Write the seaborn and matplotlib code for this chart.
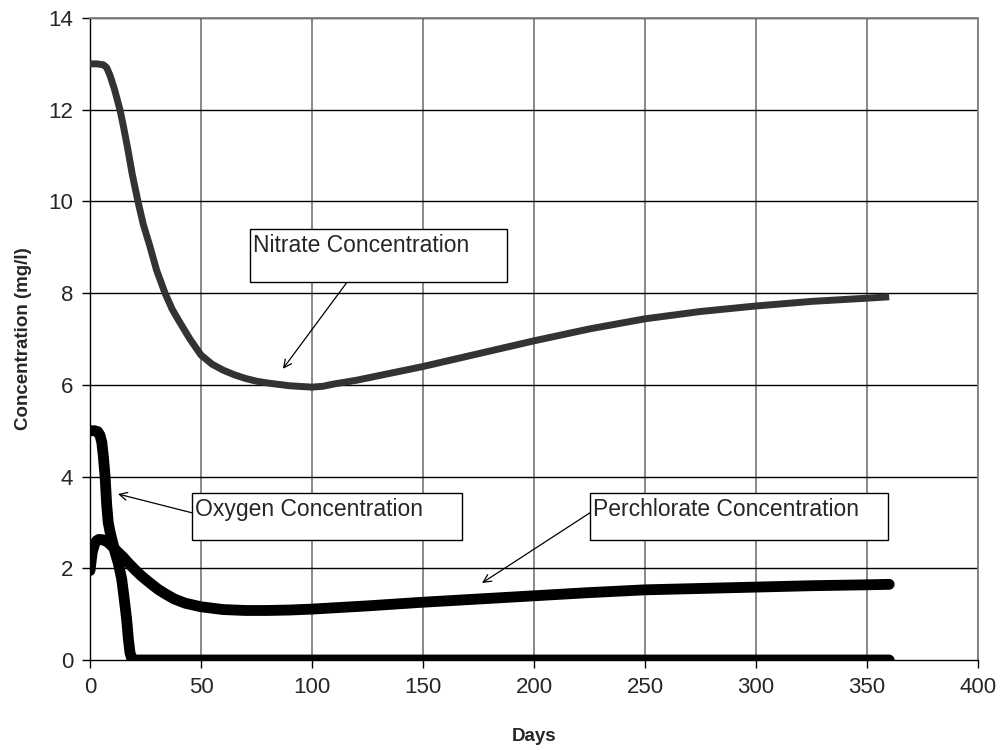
import matplotlib
matplotlib.use("Agg")
import matplotlib.pyplot as plt
import seaborn as sns
from matplotlib.patches import Rectangle

# ---- data ----
nitrate_days = [0, 3, 6, 7.5, 9, 11, 13.5, 15, 17, 19, 21.6, 24, 27, 30, 33.8, 37, 40,
                45, 50, 55, 60, 65, 70, 75, 80, 90, 100, 105, 110, 120, 130, 140, 150,
                175, 200, 225, 250, 275, 300, 325, 350, 360]
nitrate_conc = [13.0, 13.0, 12.98, 12.92, 12.75, 12.45, 12.0, 11.65, 11.15, 10.6, 10.0,
                9.5, 9.02, 8.5, 8.0, 7.65, 7.4, 7.0, 6.65, 6.45, 6.32, 6.22, 6.14, 6.08,
                6.04, 5.98, 5.95, 5.97, 6.02, 6.1, 6.2, 6.3, 6.4, 6.68, 6.96, 7.22, 7.44,
                7.6, 7.72, 7.82, 7.89, 7.92]

oxygen_days = [0, 2, 3.5, 4.5, 5.3, 6, 6.8, 7.5, 8.2, 9, 10, 11.3, 12.8, 14.3, 15.5,
               16.5, 17.3, 18, 18.8, 20, 100, 200, 300, 360]
oxygen_conc = [5.0, 5.0, 4.98, 4.9, 4.75, 4.45, 4.0, 3.4, 3.0, 2.8, 2.6, 2.35, 2.1,
               1.76, 1.3, 0.89, 0.45, 0.16, 0.03, 0.0, 0.0, 0.0, 0.0, 0.0]

perc_days = [0, 0.5, 1, 2, 3, 4, 6, 8, 10, 12.6, 15, 17, 20, 23, 27, 30.7, 34, 38,
             42.8, 50, 55, 60, 70, 80, 90, 100, 125, 150, 175, 200, 225, 250, 275,
             300, 325, 350, 360]
perc_conc = [1.95, 2.15, 2.35, 2.52, 2.6, 2.63, 2.62, 2.57, 2.48, 2.35, 2.24, 2.13,
             1.98, 1.84, 1.68, 1.54, 1.44, 1.33, 1.24, 1.16, 1.13, 1.1, 1.08, 1.08,
             1.09, 1.11, 1.18, 1.26, 1.33, 1.40, 1.47, 1.53, 1.56, 1.59, 1.62, 1.64, 1.65]

x_ticks = [0, 50, 100, 150, 200, 250, 300, 350, 400]
y_ticks = [0, 2, 4, 6, 8, 10, 12, 14]
x_label = "Days"
y_label = "Concentration (mg/l)"
labels = ["Nitrate Concentration", "Oxygen Concentration", "Perchlorate Concentration"]

# ---- figure ----
sns.set_style("white")
plt.rcParams['font.family'] = ['Liberation Sans', 'DejaVu Sans']

fig = plt.figure(figsize=(10.05, 7.5), dpi=100)
ax = fig.add_axes([90/1005, 90/750, 888/1005, 642/750])

ax.set_xlim(0, 400)
ax.set_ylim(0, 14)
ax.set_xticks(x_ticks)
ax.set_yticks(y_ticks)

# grid: vertical gray, horizontal black
for xv in x_ticks[1:]:
    ax.axvline(xv, color="#808080", lw=1.3, zorder=0)
for yv in y_ticks[1:]:
    ax.axhline(yv, color="black", lw=1.0, zorder=0)

sns.lineplot(x=nitrate_days, y=nitrate_conc, ax=ax, color="#333333", lw=5,
             solid_capstyle="butt", solid_joinstyle="round", zorder=3,
             estimator=None, sort=False)
sns.lineplot(x=oxygen_days, y=oxygen_conc, ax=ax, color="black", lw=7.8,
             solid_capstyle="round", solid_joinstyle="round", zorder=4,
             estimator=None, sort=False)
sns.lineplot(x=perc_days, y=perc_conc, ax=ax, color="black", lw=7.8,
             solid_capstyle="round", solid_joinstyle="round", zorder=4,
             estimator=None, sort=False)

for s in ["top", "right"]:
    ax.spines[s].set_color("#808080")
    ax.spines[s].set_linewidth(1.3)
for s in ["left", "bottom"]:
    ax.spines[s].set_color("black")
    ax.spines[s].set_linewidth(1.0)

ax.tick_params(axis="both", direction="out", length=6, width=1.0, color="black",
               labelsize=16, pad=6, left=True, bottom=True)
ax.set_xlabel(x_label, fontsize=13.5, fontweight="bold", labelpad=22)
ax.set_ylabel(y_label, fontsize=13.5, fontweight="bold", labelpad=12)

# ---- annotation boxes ----
boxes = [
    # (x0, y0, x1, y1), text, arrow start, arrow tip
    ((72.1, 8.24, 187.8, 9.40), labels[0], (115.8, 8.24), (86.9, 6.35)),
    ((45.9, 2.62, 167.6, 3.64), labels[1], (45.9, 3.21), (12.6, 3.62)),
    ((225.2, 2.62, 359.5, 3.64), labels[2], (225.2, 3.21), (176.6, 1.68)),
]
for (x0, y0, x1, y1), txt, start, tip in boxes:
    ax.add_patch(Rectangle((x0, y0), x1 - x0, y1 - y0, facecolor="white",
                           edgecolor="black", lw=1.0, zorder=6))
    ax.text(x0 + 1.2, y1 - 0.1, txt, ha="left", va="top", fontsize=16.5, zorder=7)
    ax.annotate("", xy=tip, xytext=start,
                arrowprops=dict(arrowstyle="->", color="black", lw=0.9,
                                mutation_scale=14, shrinkA=0, shrinkB=0),
                zorder=5)

fig.savefig("out.png", dpi=100)
